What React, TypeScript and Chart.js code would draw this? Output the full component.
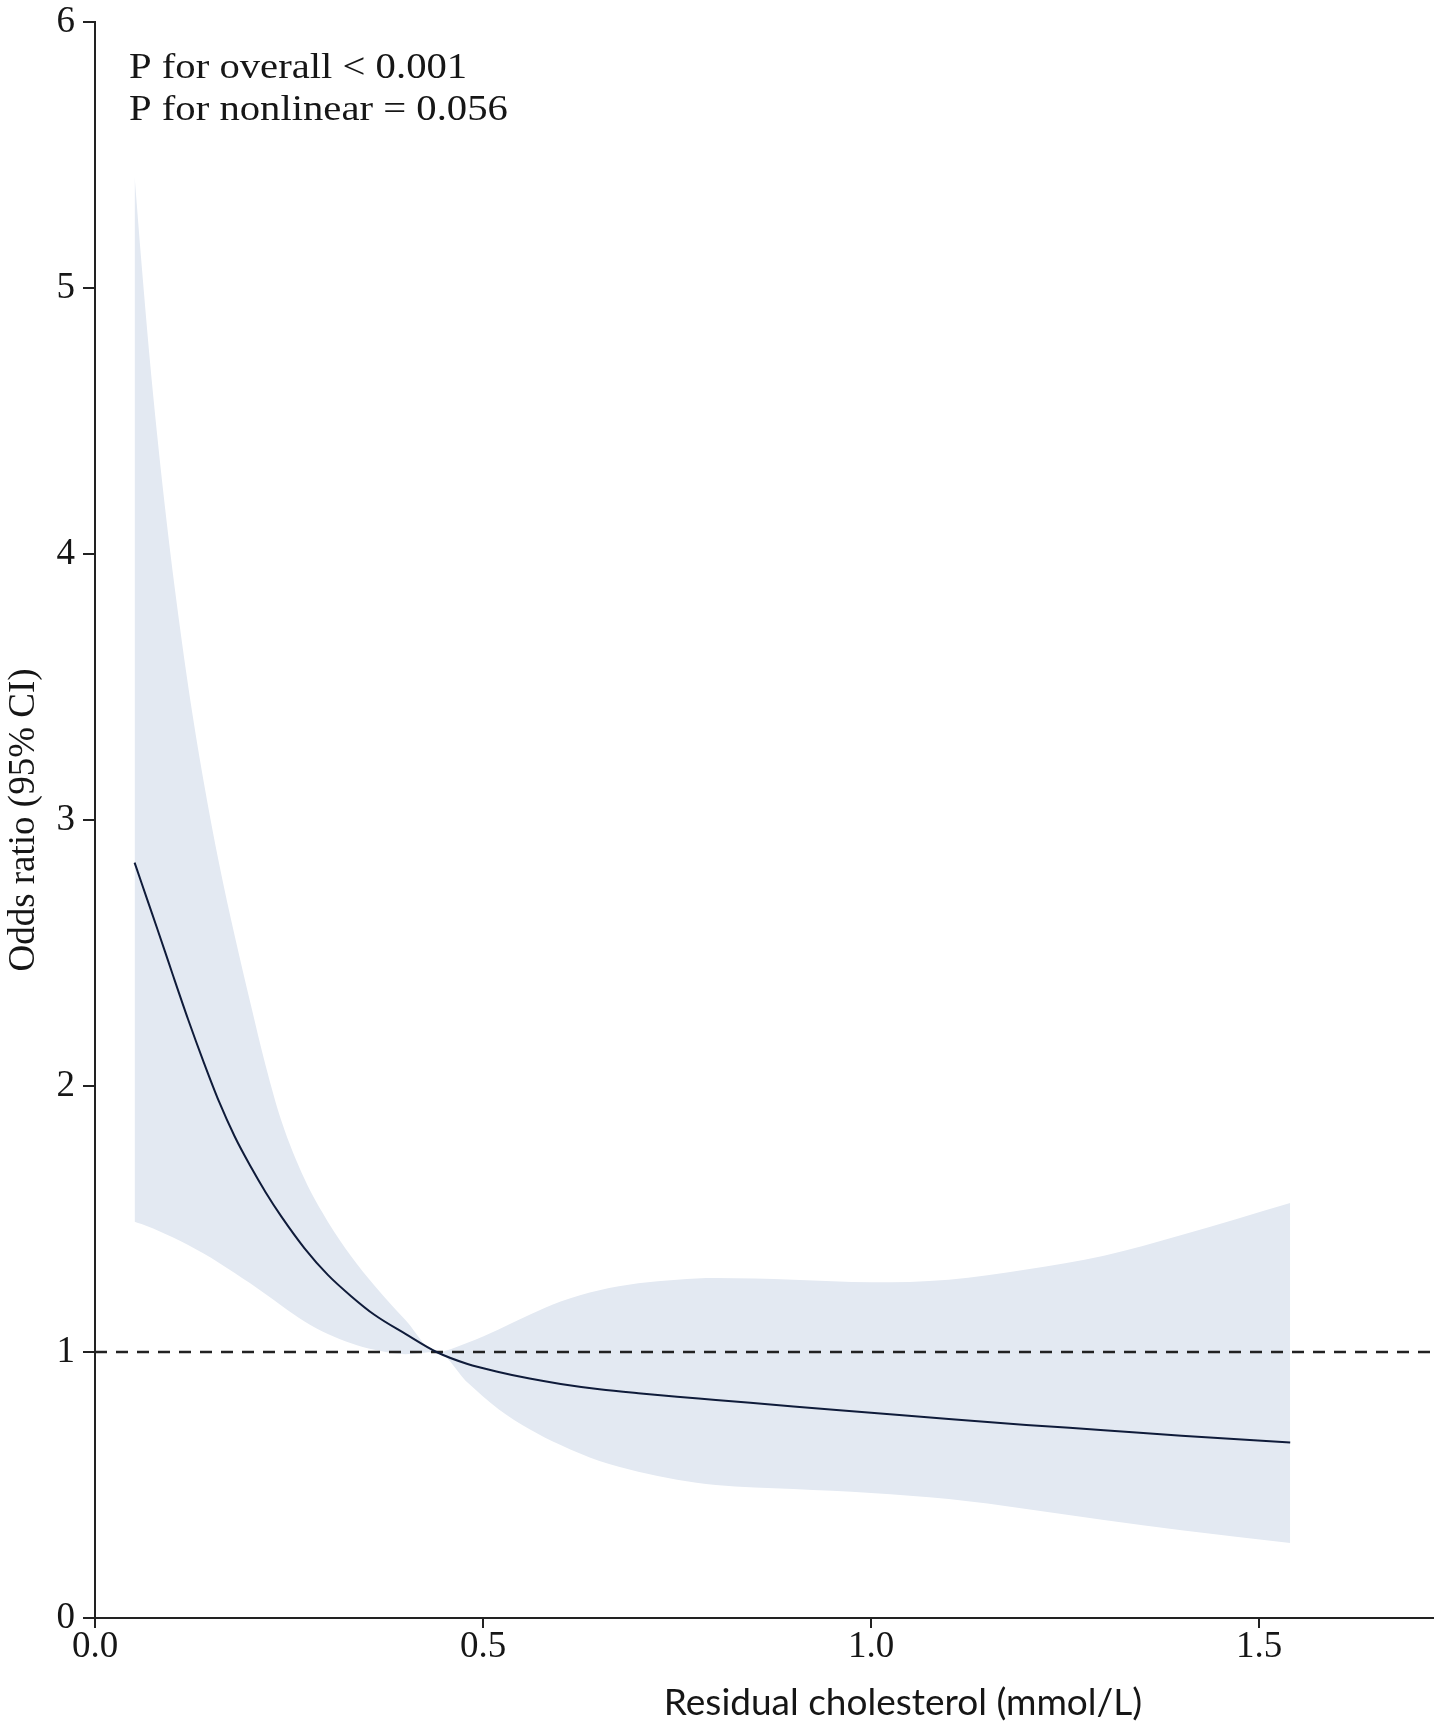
import React, { useEffect, useRef } from 'react';
import { Chart, registerables } from 'chart.js';

Chart.register(...registerables);

// ---- data ----
const xValues = [0.051, 0.06, 0.07, 0.08, 0.09, 0.10, 0.12, 0.14, 0.16, 0.18, 0.20, 0.22, 0.24, 0.27, 0.30, 0.33, 0.36, 0.40, 0.44, 0.48, 0.52, 0.56, 0.60, 0.65, 0.70, 0.75, 0.80, 0.90, 1.00, 1.10, 1.20, 1.30, 1.40, 1.54];
const orValues = [2.84, 2.763, 2.678, 2.593, 2.507, 2.42, 2.25, 2.09, 1.94, 1.81, 1.70, 1.60, 1.51, 1.39, 1.29, 1.21, 1.14, 1.068, 1.00, 0.955, 0.925, 0.90, 0.88, 0.86, 0.845, 0.832, 0.82, 0.795, 0.772, 0.748, 0.726, 0.706, 0.685, 0.66];
const upperValues = [5.42, 5.09, 4.75, 4.45, 4.18, 3.935, 3.505, 3.145, 2.835, 2.565, 2.315, 2.075, 1.87, 1.65, 1.49, 1.36, 1.25, 1.12, 1.00, 1.035, 1.085, 1.14, 1.19, 1.232, 1.258, 1.272, 1.278, 1.272, 1.262, 1.272, 1.31, 1.362, 1.44, 1.56];
const lowerValues = [1.49, 1.481, 1.47, 1.458, 1.445, 1.431, 1.402, 1.37, 1.335, 1.297, 1.258, 1.217, 1.175, 1.115, 1.068, 1.033, 1.008, 0.992, 1.00, 0.885, 0.785, 0.71, 0.65, 0.59, 0.55, 0.52, 0.50, 0.485, 0.47, 0.447, 0.41, 0.368, 0.33, 0.282];
const refY = 1;
const xMin = 0;
const xMax = 1.724;
const yMin = 0;
const yMax = 6;
const xTicks = [0, 0.5, 1.0, 1.5];
const yTicks = [0, 1, 2, 3, 4, 5, 6];
const annotationLines = ['P for overall < 0.001', 'P for nonlinear = 0.056'];
const xTitle = 'Residual cholesterol (mmol/L)';
const yTitle = 'Odds ratio (95% CI)';

const SERIF = "'Liberation Serif', 'Times New Roman', Times, serif";
const INK = '#161616';

const textPlugin = {
  id: 'extraTexts',
  afterDraw(chart: any) {
    const ctx = chart.ctx as CanvasRenderingContext2D;
    const area = chart.chartArea;
    ctx.save();
    ctx.fillStyle = INK;
    ctx.textAlign = 'left';
    ctx.textBaseline = 'alphabetic';
    ctx.font = `36px ${SERIF}`;
    annotationLines.forEach((t, i) => {
      ctx.save();
      ctx.translate(area.left + 34, area.top + 56 + i * 42);
      ctx.scale(1.13, 1);
      ctx.fillText(t, 0, 0);
      ctx.restore();
    });
    ctx.font = "37px Lato, 'Open Sans', sans-serif";
    ctx.textAlign = 'center';
    ctx.fillText(xTitle, 903, 1715);
    ctx.restore();
  },
};

export default function App() {
  const canvasRef = useRef<HTMLCanvasElement | null>(null);

  useEffect(() => {
    const canvas = canvasRef.current;
    if (!canvas) return;
    const toPts = (ys: number[]) => xValues.map((x, i) => ({ x, y: ys[i] }));
    const chart = new Chart(canvas, {
      type: 'line',
      data: {
        datasets: [
          {
            label: 'OR',
            data: toPts(orValues),
            borderColor: '#0f1b3a',
            borderWidth: 2,
            pointRadius: 0,
            fill: false,
            cubicInterpolationMode: 'monotone',
            order: 0,
          },
          {
            label: 'Reference',
            data: [
              { x: xMin, y: refY },
              { x: xMax, y: refY },
            ],
            borderColor: '#222222',
            borderWidth: 2.5,
            borderDash: [12, 9],
            pointRadius: 0,
            fill: false,
            order: 1,
          },
          {
            label: 'Upper',
            data: toPts(upperValues),
            borderColor: 'transparent',
            borderWidth: 0,
            pointRadius: 0,
            backgroundColor: '#e3e9f2',
            fill: '+1',
            cubicInterpolationMode: 'monotone',
            order: 2,
          },
          {
            label: 'Lower',
            data: toPts(lowerValues),
            borderColor: 'transparent',
            borderWidth: 0,
            pointRadius: 0,
            fill: false,
            cubicInterpolationMode: 'monotone',
            order: 3,
          },
        ],
      },
      options: {
        animation: false,
        responsive: false,
        events: [],
        layout: { padding: { left: 0, right: 8, top: 22, bottom: 0 } },
        plugins: {
          legend: { display: false },
          tooltip: { enabled: false },
          filler: { drawTime: 'beforeDatasetsDraw' },
        },
        scales: {
          x: {
            type: 'linear',
            min: xMin,
            max: xMax,
            afterBuildTicks: (s: any) => {
              s.ticks = xTicks.map((v) => ({ value: v }));
            },
            afterFit: (s: any) => {
              s.height = 108;
              s.paddingLeft = 0;
              s.paddingRight = 0;
            },
            grid: {
              display: true,
              drawOnChartArea: false,
              drawTicks: true,
              tickLength: 10,
              color: '#222222',
              lineWidth: 2,
            },
            border: { display: true, color: '#222222', width: 2 },
            ticks: {
              font: { family: SERIF, size: 37 },
              color: INK,
              padding: -3,
              maxRotation: 0,
              autoSkip: false,
              callback: (v: any) => Number(v).toFixed(1),
            },
          },
          y: {
            type: 'linear',
            min: yMin,
            max: yMax,
            afterBuildTicks: (s: any) => {
              s.ticks = yTicks.map((v) => ({ value: v }));
            },
            afterFit: (s: any) => {
              s.width = 95;
              s.paddingTop = 0;
              s.paddingBottom = 0;
            },
            grid: {
              display: true,
              drawOnChartArea: false,
              drawTicks: true,
              tickLength: 12,
              color: '#222222',
              lineWidth: 2,
            },
            border: { display: true, color: '#222222', width: 2 },
            ticks: {
              font: { family: SERIF, size: 37 },
              color: INK,
              padding: 8,
              autoSkip: false,
              callback: (v: any) => String(v),
            },
            title: {
              display: true,
              text: yTitle,
              color: INK,
              font: { family: SERIF, size: 37 },
              padding: { top: 2, bottom: 0 },
            },
          },
        },
      },
      plugins: [textPlugin],
    } as any);
    return () => chart.destroy();
  }, []);

  return (
    <div style={{ position: 'absolute', left: 0, top: 0, width: 1441, height: 1726, background: '#ffffff' }}>
      <canvas ref={canvasRef} width={1441} height={1726} style={{ display: 'block', width: 1441, height: 1726 }} />
    </div>
  );
}
